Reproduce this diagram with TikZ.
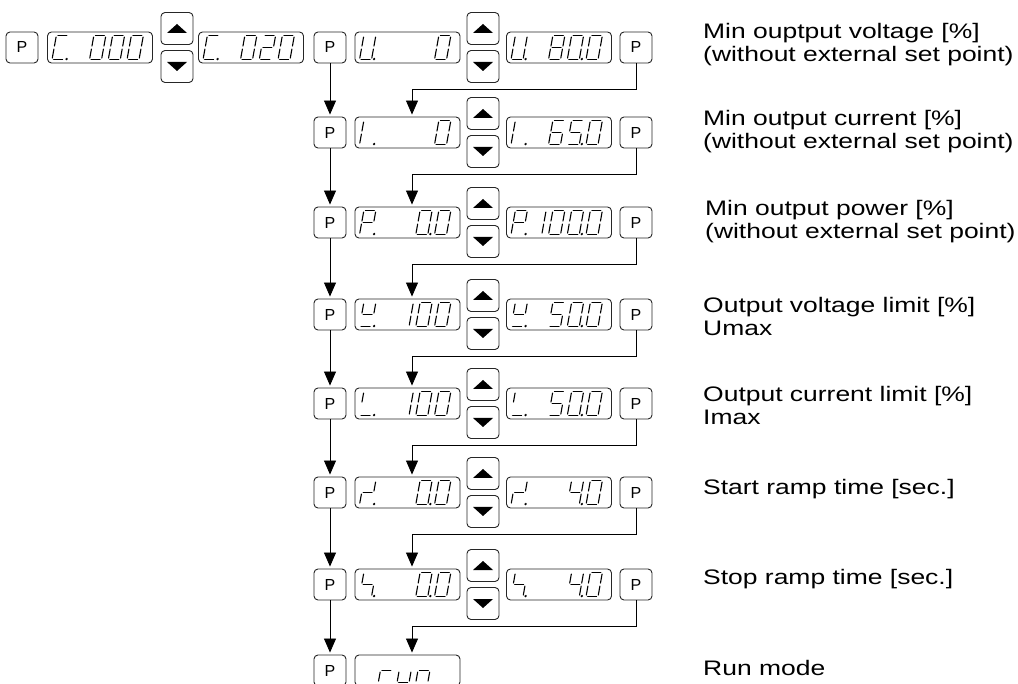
\documentclass[tikz,border=0pt]{standalone}
\usepackage{fontspec}
\setmainfont{Liberation Sans}
\newfontfamily\labelfont[FakeStretch=1.26]{Liberation Sans}
\usetikzlibrary{arrows.meta,calc}

% seven segment glyphs (segments a..g)
\newcommand{\defglyph}[2]{\expandafter\def\csname g#1\endcsname{#2}}
\defglyph{0}{a,b,c,d,e,f}
\defglyph{1}{b,c}
\defglyph{2}{a,b,d,e,g}
\defglyph{4}{b,c,f,g}
\defglyph{5}{a,c,d,f,g}
\defglyph{6}{a,c,d,e,f,g}
\defglyph{8}{a,b,c,d,e,f,g}
\defglyph{C}{a,d,e,f}
\defglyph{U}{b,c,d,e,f}
\defglyph{I}{e,f}
\defglyph{P}{a,b,e,f,g}
\defglyph{Hi}{b,d,f,g}
\defglyph{Li}{d,f}
\defglyph{ru}{b,e,g}
\defglyph{rd}{c,f,g}
\defglyph{r}{e,g}
\defglyph{u}{c,d,e}
\defglyph{n}{c,e,g}

% one character in a slot of a display node
\newcommand{\segchar}[3]{%
  \begin{scope}[shift={($(#1.north west)+(9.3+18.75*#2,4)$)}, xslant=0.18]
    \foreach \s in #3 {
      \if\s a\draw[segline] (1.5,0) -- (10.5,0);\fi
      \if\s b\draw[segline] (12,1.5) -- (12,10.5);\fi
      \if\s c\draw[segline] (12,13.5) -- (12,22.5);\fi
      \if\s d\draw[segline] (1.5,24) -- (10.5,24);\fi
      \if\s e\draw[segline] (0,13.5) -- (0,22.5);\fi
      \if\s f\draw[segline] (0,1.5) -- (0,10.5);\fi
      \if\s g\draw[segline] (1.5,12) -- (10.5,12);\fi
      \if\s p\fill (14.5,23.5) circle (1.3pt);\fi
    }
  \end{scope}}

% a whole display: list of slot/glyph/dot
\newcommand{\segdisp}[2]{%
  \foreach \i/\g/\d in {#2} {
    \edef\seglist{\csname g\g\endcsname,\d}
    \segchar{#1}{\i}{\seglist}
  }}

\tikzset{
  key/.style={draw=black!85, line width=0.9pt, rounded corners=4pt, minimum width=32pt,
    minimum height=31pt, inner sep=0pt, font=\fontsize{16}{16}\selectfont},
  display/.style={draw=black!85, line width=0.9pt, rounded corners=4pt, minimum width=105pt,
    minimum height=31pt, inner sep=0pt},
  updown/.style={draw=black!85, line width=0.9pt, rounded corners=4pt, minimum width=32pt,
    minimum height=32pt, inner sep=0pt},
  segline/.style={line width=1.1pt, line cap=round},
  flow/.style={line width=0.8pt, -{Triangle[length=14pt,width=12pt]}, shorten >=2pt},
  menutext/.style={anchor=west, align=left, inner sep=0pt,
    font=\labelfont\fontsize{21}{23}\selectfont}
}

\begin{document}
\begin{tikzpicture}[x=1pt, y=-1pt]

	\path[use as bounding box, fill=white] (0,0) rectangle (1018,684);

	% first row, left part
	\node[key] (p0) at (22,47.5) {P};
	\node[display] (da0) at (100,47.5) {};
	\node[updown] (up0) at (177,28.5) {};
	\node[updown] (dn0) at (177,66.5) {};
	\node[display] (db0) at (251,47.5) {};

	% menu rows
	\foreach \r/\y in {1/47.5, 2/132.5, 3/222.5, 4/314.5, 5/403.5, 6/492.5, 7/584.5} {
		\node[key] (p\r) at (330,\y) {P};
		\node[display] (da\r) at (407.5,\y) {};
		\node[updown] (up\r) at (483,\y-19) {};
		\node[updown] (dn\r) at (483,\y+19) {};
		\node[display] (db\r) at (559,\y) {};
		\node[key] (q\r) at (636,\y) {P};
	}

	% run mode row
	\node[key] (p8) at (330,670.5) {P};
	\node[display] (da8) at (407.5,670.5) {};

	% up and down triangles
	\foreach \r in {0,...,7} {
		\fill ($(up\r.center)+(-10,4.5)$) -- ($(up\r.center)+(10,4.5)$) -- ($(up\r.center)+(0,-4.5)$) -- cycle;
		\fill ($(dn\r.center)+(-10,-4.5)$) -- ($(dn\r.center)+(10,-4.5)$) -- ($(dn\r.center)+(0,4.5)$) -- cycle;
	}

	% arrows
	\foreach \r/\n in {1/2, 2/3, 3/4, 4/5, 5/6, 6/7, 7/8} {
		\draw[flow] (p\r) -- (p\n);
		\draw[flow] (q\r.south) -- ++(0,26) -| ([xshift=4.5pt]da\n.north);
	}

	% display readings
	\segdisp{da0}{0/C/p,2/0/-,3/0/-,4/0/-}
	\segdisp{db0}{0/C/p,2/0/-,3/2/-,4/0/-}
	\segdisp{da1}{0/U/p,4/0/-}
	\segdisp{db1}{0/U/p,2/8/-,3/0/p,4/0/-}
	\segdisp{da2}{0/I/p,4/0/-}
	\segdisp{db2}{0/I/p,2/6/-,3/5/p,4/0/-}
	\segdisp{da3}{0/P/p,3/0/p,4/0/-}
	\segdisp{db3}{0/P/p,1/1/-,2/0/-,3/0/p,4/0/-}
	\segdisp{da4}{0/Hi/p,2/1/-,3/0/-,4/0/-}
	\segdisp{db4}{0/Hi/p,2/5/-,3/0/p,4/0/-}
	\segdisp{da5}{0/Li/p,2/1/-,3/0/-,4/0/-}
	\segdisp{db5}{0/Li/p,2/5/-,3/0/p,4/0/-}
	\segdisp{da6}{0/ru/p,3/0/p,4/0/-}
	\segdisp{db6}{0/ru/p,3/4/p,4/0/-}
	\segdisp{da7}{0/rd/p,3/0/p,4/0/-}
	\segdisp{db7}{0/rd/p,3/4/p,4/0/-}
	\segdisp{da8}{1/r/-,2/u/-,3/n/-}

	% descriptions
	\node[menutext] (t1) at (703,45) {Min ouptput voltage [\%]\\(without external set point)};
	\node[menutext] (t2) at (703,132) {Min output current [\%]\\(without external set point)};
	\node[menutext] (t3) at (705,222) {Min output power [\%]\\(without external set point)};
	\node[menutext] (t4) at (703,316) {Output voltage limit [\%]\\Umax};
	\node[menutext] (t5) at (703,405) {Output current limit [\%]\\Imax};
	\node[menutext] (t6) at (703,489) {Start ramp time [sec.]};
	\node[menutext] (t7) at (703,579) {Stop ramp time [sec.]};
	\node[menutext] (t8) at (703,668) {Run mode};

\end{tikzpicture}
\end{document}
